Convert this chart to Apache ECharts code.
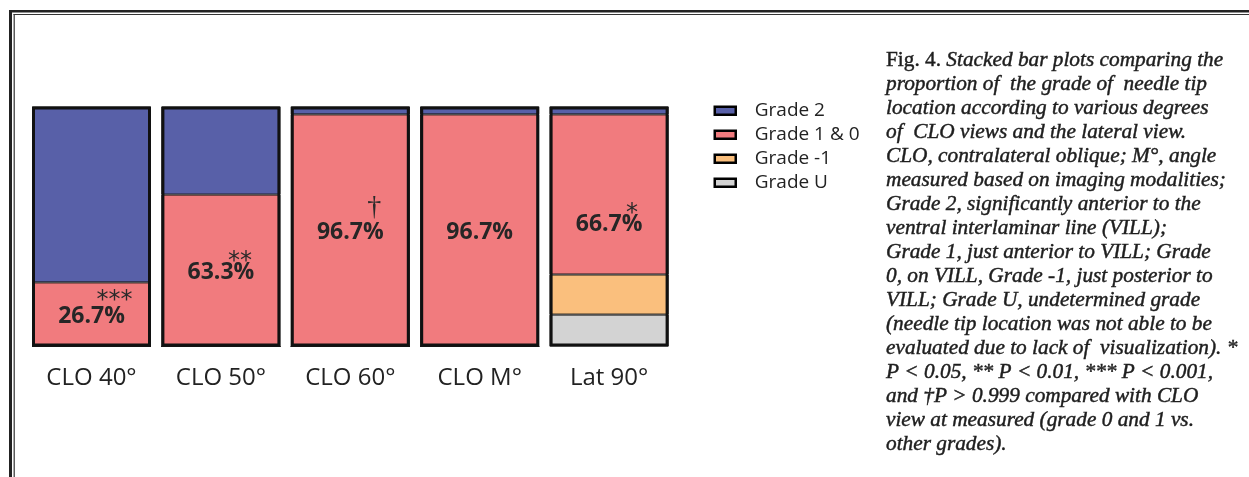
<!DOCTYPE html>
<html>
<head>
<meta charset="utf-8">
<script src="https://cdn.jsdelivr.net/npm/echarts@6/dist/echarts.min.js"></script>
<style>
  html, body { margin: 0; padding: 0; background: #ffffff; }
  #chart { width: 1249px; height: 477px; }
</style>
</head>
<body>
<div id="chart"></div>
<script>
// Views compared
const categories = ['CLO 40°', 'CLO 50°', 'CLO 60°', 'CLO M°', 'Lat 90°'];

// Proportion (%) of each needle-tip grade per view
const grade2 = [73.3, 36.7, 3.3, 3.3, 3.3];
const grade10 = [26.7, 63.3, 96.7, 96.7, 66.7];
const gradeMinus1 = [0, 0, 0, 0, 16.7];
const gradeU = [0, 0, 0, 0, 13.3];

// Significance marks next to the Grade 1 & 0 percentages
const significance = ['***', '**', '†', '', '*'];

// Figure caption
const captionHead = 'Fig. 4. ';
const captionLines = [
  'Stacked bar plots comparing the',
  'proportion of  the grade of  needle tip',
  'location according to various degrees',
  'of  CLO views and the lateral view.',
  'CLO, contralateral oblique; M°, angle',
  'measured based on imaging modalities;',
  'Grade 2, significantly anterior to the',
  'ventral interlaminar line (VILL);',
  'Grade 1, just anterior to VILL; Grade',
  '0, on VILL, Grade -1, just posterior to',
  'VILL; Grade U, undetermined grade',
  '(needle tip location was not able to be',
  'evaluated due to lack of  visualization). *',
  'P < 0.05, ** P < 0.01, *** P < 0.001,',
  'and †P > 0.999 compared with CLO',
  'view at measured (grade 0 and 1 vs.',
  'other grades).'
];

// Layout / styling
const colors = { g2: '#5860a8', g10: '#f17b7e', gm1: '#fabf7d', gu: '#d3d3d3' };
const labelShift = [1.5, 1.5, 1.5, 1.5, 30.3];
// mark offsets measured from the centre of the Grade 1 & 0 segment
const markOffset = [[23, -13.5], [19, -8.5], [24, -23], [0, 0], [23, 19.3]];
const sansFont = '"Open Sans", "DejaVu Sans", sans-serif';
const starFont = '"DejaVu Sans", sans-serif';
const serifFont = '"Liberation Serif", "DejaVu Serif", serif';
const BAR_W = 119;

const chart = echarts.init(document.getElementById('chart'), null, { renderer: 'canvas' });

function segment(name, data, color, extra) {
  return Object.assign({
    name: name,
    type: 'bar',
    stack: 'total',
    barWidth: BAR_W,
    barGap: '-100%',
    data: data,
    itemStyle: { color: color, borderColor: '#1a1a1a', borderWidth: 1 },
    emphasis: { disabled: true },
    silent: true,
    z: 2
  }, extra || {});
}

const totals = categories.map((_, i) => grade2[i] + grade10[i] + gradeMinus1[i] + gradeU[i]);

const captionText = captionLines.map((line, i) =>
  (i === 0 ? '{r|' + captionHead + '}' : '') + '{i|' + line + '}'
).join('\n');

const captionBase = {
  fontFamily: serifFont, fontSize: 21.3, lineHeight: 24, fontWeight: 'normal', color: '#1e1e1e',
  textBorderColor: '#1e1e1e', textBorderWidth: 0.45
};

chart.setOption({
  animation: false,
  backgroundColor: '#ffffff',
  title: {
    left: 886,
    top: 48,
    padding: 0,
    text: captionText,
    textStyle: Object.assign({}, captionBase, {
      rich: {
        r: Object.assign({}, captionBase, { fontStyle: 'normal' }),
        i: Object.assign({}, captionBase, { fontStyle: 'italic' })
      }
    })
  },
  legend: {
    orient: 'vertical',
    left: 713.5,
    top: 100.7,
    padding: 0,
    itemGap: 4,
    itemWidth: 21,
    itemHeight: 8,
    icon: 'rect',
    selectedMode: false,
    data: ['Grade 2', 'Grade 1 & 0', 'Grade -1', 'Grade U'],
    itemStyle: { borderColor: '#000000', borderWidth: 2.5 },
    textStyle: {
      fontFamily: sansFont,
      fontSize: 19,
      lineHeight: 20,
      color: '#222222',
      padding: [0, 0, 0, 14]
    }
  },
  grid: { left: 26.8, right: 575.2, top: 106.5, bottom: 130.5, containLabel: false },
  xAxis: {
    type: 'category',
    data: categories,
    axisLine: { show: false },
    axisTick: { show: false },
    axisLabel: {
      margin: 20,
      fontFamily: sansFont,
      fontSize: 24,
      color: '#222222'
    }
  },
  yAxis: {
    type: 'value',
    min: 0,
    max: 100,
    show: false,
    splitLine: { show: false }
  },
  series: [
    segment('Grade U', gradeU, colors.gu),
    segment('Grade -1', gradeMinus1, colors.gm1),
    segment('Grade 1 & 0', grade10.map((v, i) => ({ value: v, label: { offset: [0, labelShift[i]] } })), colors.g10, {
      label: {
        show: true,
        position: 'inside',
        formatter: (p) => p.value.toFixed(1) + '%',
        fontFamily: sansFont,
        fontWeight: 'bold',
        fontSize: 23,
        color: '#262626'
      }
    }),
    segment('Grade 2', grade2, colors.g2),
    {
      // Outer frame of each stacked column
      name: 'frame',
      type: 'bar',
      barWidth: BAR_W,
      barGap: '-100%',
      data: totals,
      itemStyle: { color: 'rgba(0,0,0,0)', borderColor: '#111111', borderWidth: 3 },
      emphasis: { disabled: true },
      silent: true,
      z: 5
    }
  ]
});

// Significance marks placed relative to the centre of each Grade 1 & 0 segment
const marks = [];
categories.forEach((c, i) => {
  if (!significance[i]) return;
  const base = gradeU[i] + gradeMinus1[i];
  const pt = chart.convertToPixel({ gridIndex: 0 }, [i, base + grade10[i] / 2]);
  const isDagger = significance[i] === '†';
  marks.push({
    type: 'text',
    x: pt[0] + markOffset[i][0],
    y: pt[1] + markOffset[i][1],
    z: 10,
    style: {
      text: significance[i],
      align: 'center',
      verticalAlign: 'middle',
      fontFamily: isDagger ? serifFont : starFont,
      fontSize: isDagger ? 28 : 24,
      fill: '#2a2a2a'
    }
  });
});

// Double rule framing the figure panel
const W = 1249, H = 477;
const frame = [
  { type: 'line', shape: { x1: 9, y1: 11.2, x2: W, y2: 11.2 }, style: { stroke: '#222222', lineWidth: 2.5 } },
  { type: 'line', shape: { x1: 13.5, y1: 14.5, x2: W, y2: 14.5 }, style: { stroke: '#333333', lineWidth: 1.2 } },
  { type: 'line', shape: { x1: 10.5, y1: 10, x2: 10.5, y2: H }, style: { stroke: '#222222', lineWidth: 3 } },
  { type: 'line', shape: { x1: 14.2, y1: 14, x2: 14.2, y2: H }, style: { stroke: '#333333', lineWidth: 1.2 } }
];

chart.setOption({ graphic: frame.concat(marks) });
</script>
</body>
</html>
